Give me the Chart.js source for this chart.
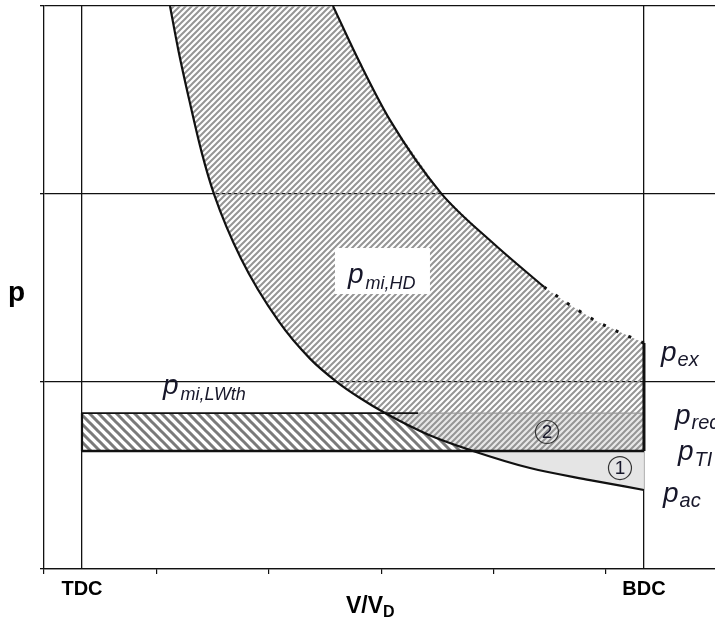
<!DOCTYPE html>
<html>
<head>
<meta charset="utf-8">
<script src="https://cdn.jsdelivr.net/npm/chart.js@4.4.1/dist/chart.umd.min.js"></script>
<style>
  html, body { margin: 0; padding: 0; background: #fff; }
  canvas { display: block; }
</style>
</head>
<body>
<canvas id="pv" width="715" height="621"></canvas>
<script>
// Cylinder volume as V/V_D: TDC is the clearance volume, BDC lies one swept volume further
const V_TDC = 0.0676;
const V_BDC = 1.0676;
const V_AXIS_MAX = 1.194;
const P_AXIS_MAX = 3;

// Characteristic pressures
const P_EX = 1.204;   // end of expansion at BDC
const P_REC = 0.831;  // receiver
const P_TI = 0.629;   // turbine inlet
const P_AC = 0.421;   // start of compression at BDC

// Compression line, from the top of the plot down to p_ac at BDC
const compressionV = [0.2242, 0.2390, 0.2585, 0.2806, 0.3025, 0.3505, 0.4181, 0.4733,
                      0.5214, 0.5623, 0.6068, 0.6851, 0.7633, 0.8648, 0.9715, 1.0676];
const compressionP = [3.000, 2.766, 2.499, 2.220, 1.998, 1.655, 1.318, 1.121,
                      0.996, 0.911, 0.831, 0.714, 0.629, 0.538, 0.474, 0.421];

// Expansion line, solid part
const expansionV = [0.5142, 0.5623, 0.6157, 0.7064, 0.7989, 0.8897];
const expansionP = [3.000, 2.696, 2.392, 2.003, 1.737, 1.503];

// Expansion line, dotted end down to p_ex at BDC
const expansionTailV = [0.8897, 0.9359, 0.9858, 1.0676];
const expansionTailP = [1.503, 1.407, 1.316, 1.204];

// Where the solid upper edge of the gas-exchange rectangle stops
const V_REC_EDGE_END = 0.6655;

// Axis ticks
const xTickValues = [0, 0.2, 0.4, 0.6, 0.8, 1.0];
const yTickValues = [0, 1, 2, 3];
const deadCentreValues = [V_TDC, V_BDC];
const deadCentreLabels = ['TDC', 'BDC'];

const FONT = '"Liberation Sans", Arial, Helvetica, sans-serif';
const TEXT = '#17172a';

function pts(vs, ps) { return vs.map((v, i) => ({ x: v, y: ps[i] })); }

function hatch(size, width, color, forward) {
  const c = document.createElement('canvas');
  c.width = size; c.height = size;
  const g = c.getContext('2d');
  g.strokeStyle = color;
  g.lineWidth = width;
  g.beginPath();
  for (let k = 0; k <= 2; k++) {
    const c0 = k * size;
    if (forward) {            // lines x + y = c0  -> "/"
      g.moveTo(-size, c0 + size);
      g.lineTo(c0 + size, -size);
    } else {                  // lines y = x + (k-1)*size  -> "\"
      const off = (k - 1) * size;
      g.moveTo(-size, -size + off);
      g.lineTo(2 * size, 2 * size + off);
    }
  }
  g.stroke();
  return g.createPattern(c, 'repeat');
}

const hpHatch = hatch(6, 2.0, '#959595', true);
const lpHatch = hatch(9, 3.0, '#7a7a7a', false);

const comp = pts(compressionV, compressionP);
const expa = pts(expansionV, expansionP);
const tail = pts(expansionTailV, expansionTailP);
const iRec = compressionP.indexOf(P_REC);
const iTi = compressionP.indexOf(P_TI);

// High-pressure loop p_mi,HD
const hdShape = [
  ...comp.slice(0, iTi + 1),
  { x: V_BDC, y: P_TI },
  { x: V_BDC, y: P_EX },
  ...tail.slice().reverse(),
  ...expa.slice().reverse()
];
// Area (2): between p_rec and p_TI, right of the compression line
const area2 = [
  comp[iRec],
  { x: V_BDC, y: P_REC },
  { x: V_BDC, y: P_TI },
  ...comp.slice(iRec, iTi + 1).reverse()
];
// Area (1): between p_TI and the compression line
const area1 = [
  comp[iTi],
  { x: V_BDC, y: P_TI },
  { x: V_BDC, y: P_AC },
  ...comp.slice(iTi + 1).reverse()
];
// Gas-exchange loop p_mi,LWth
const lwShape = [
  { x: V_TDC, y: P_REC },
  ...comp.slice(iRec, iTi + 1),
  { x: V_TDC, y: P_TI }
];

function shapeSet(data, color, order) {
  return { data, showLine: true, fill: 'shape', backgroundColor: color,
           borderWidth: 0, pointRadius: 0, tension: 0, order };
}
function lineSet(data, width, color, order, extra) {
  return Object.assign({ data, showLine: true, fill: false, borderColor: color,
           borderWidth: width, pointRadius: 0, order }, extra || {});
}

const datasets = [
  shapeSet(area1, '#e5e5e5', 20),
  shapeSet(area2, '#e8e8e8', 19),
  shapeSet(hdShape, hpHatch, 18),
  shapeSet(lwShape, lpHatch, 17),
  lineSet([{ x: V_REC_EDGE_END, y: P_REC }, { x: V_BDC, y: P_REC }], 1.2, '#9a9a9a', 9),
  lineSet([{ x: V_TDC, y: P_REC }, { x: V_REC_EDGE_END, y: P_REC }], 1.8, '#111', 8),
  lineSet([{ x: V_TDC, y: P_TI }, { x: V_BDC, y: P_TI }], 2.4, '#111', 7),
  lineSet([{ x: V_TDC, y: P_TI }, { x: V_TDC, y: P_REC }], 2.2, '#111', 6),
  lineSet([{ x: V_BDC, y: P_EX }, { x: V_BDC, y: P_TI }], 3.0, '#111', 5),
  lineSet(tail, 3.0, '#111', 4, { borderDash: [3, 11], cubicInterpolationMode: 'monotone' }),
  lineSet(expa, 2.2, '#111', 3, { cubicInterpolationMode: 'monotone' }),
  lineSet(comp, 2.2, '#111', 2, { cubicInterpolationMode: 'monotone' })
];

function labelWithSub(ctx, main, sub, x, y, mainSize, subSize, subDy, subGap) {
  ctx.font = 'italic ' + mainSize + 'px ' + FONT;
  ctx.fillText(main, x, y);
  const w = ctx.measureText(main).width;
  ctx.font = 'italic ' + subSize + 'px ' + FONT;
  ctx.fillText(sub, x + w + subGap, y + subDy);
}

const annotations = {
  id: 'pvAnnotations',
  afterDraw(chart) {
    const { ctx, scales: { x2: xs, y: ys } } = chart;
    const X = v => xs.getPixelForValue(v);
    const Y = p => ys.getPixelForValue(p);
    ctx.save();
    ctx.textAlign = 'left';
    ctx.textBaseline = 'alphabetic';
    ctx.fillStyle = TEXT;

    // p_mi,HD on a white patch
    const bx0 = X(0.5178), bx1 = X(0.6868), by0 = Y(1.7104), by1 = Y(1.4653);
    ctx.fillStyle = '#fff';
    ctx.fillRect(bx0, by0, bx1 - bx0, by1 - by0);
    ctx.fillStyle = TEXT;
    labelWithSub(ctx, 'p', 'mi,HD', X(0.5409), Y(1.524), 28, 18, 6, 2);

    // p_mi,LWth above the gas-exchange rectangle
    labelWithSub(ctx, 'p', 'mi,LWth', X(0.2117), Y(0.9325), 28, 18, 6, 2);

    // Pressure names at BDC
    const bdc = X(V_BDC);
    labelWithSub(ctx, 'p', 'ex', bdc + 17, Y(P_EX) + 18, 28, 20, 5, 1);
    labelWithSub(ctx, 'p', 'rec', bdc + 31, Y(P_REC) + 11, 28, 20, 5, 1);
    labelWithSub(ctx, 'p', 'TI', bdc + 34, Y(P_TI) + 9, 28, 20, 6, 1);
    labelWithSub(ctx, 'p', 'ac', bdc + 19, Y(P_AC) + 12, 28, 20, 5, 1);

    // Circled area numbers
    const circled = [['2', 0.8950, 0.730], ['1', 1.0249, 0.538]];
    ctx.textAlign = 'center';
    ctx.textBaseline = 'middle';
    for (const [t, v, p] of circled) {
      const cx = X(v), cy = Y(p);
      ctx.beginPath();
      ctx.arc(cx, cy, 11.5, 0, Math.PI * 2);
      ctx.strokeStyle = '#333';
      ctx.lineWidth = 1.2;
      ctx.stroke();
      ctx.font = '19px ' + FONT;
      ctx.fillText(t, cx, cy + 1);
    }

    // Axis titles
    ctx.fillStyle = '#000';
    ctx.textAlign = 'left';
    ctx.textBaseline = 'alphabetic';
    ctx.font = 'bold 28px ' + FONT;
    ctx.fillText('p', 8, Y(1.45) + 4);

    ctx.font = 'bold 23px ' + FONT;
    const tx = 346, ty = 613;
    ctx.fillText('V/V', tx, ty);
    const w = ctx.measureText('V/V').width;
    ctx.font = 'bold 16px ' + FONT;
    ctx.fillText('D', tx + w, ty + 4);
    ctx.restore();
  }
};

new Chart(document.getElementById('pv'), {
  type: 'scatter',
  data: { datasets },
  plugins: [annotations],
  options: {
    responsive: false,
    devicePixelRatio: 1,
    animation: false,
    events: [],
    layout: { padding: { top: 6, right: 0, left: 0, bottom: 0 } },
    plugins: { legend: { display: false }, tooltip: { enabled: false } },
    scales: {
      x: {
        type: 'linear', position: 'bottom', min: 0, max: V_AXIS_MAX, weight: 0, z: 1,
        afterBuildTicks: s => { s.ticks = xTickValues.map(v => ({ value: v })); },
        ticks: { display: false },
        grid: { drawOnChartArea: false, drawTicks: true, tickLength: 5, color: '#111', lineWidth: 1.2 },
        border: { display: true, color: '#111', width: 1.3 },
        afterFit: s => { s.height = 5; }
      },
      x2: {
        type: 'linear', position: 'bottom', min: 0, max: V_AXIS_MAX, weight: 1, z: 1,
        afterBuildTicks: s => { s.ticks = deadCentreValues.map(v => ({ value: v })); },
        ticks: {
          autoSkip: false, maxRotation: 0, padding: 3, color: '#000',
          font: { family: FONT, size: 20, weight: 'bold' },
          callback: (value, index) => deadCentreLabels[index]
        },
        grid: { drawOnChartArea: true, drawTicks: false, color: '#111', lineWidth: 1.3 },
        border: { display: false },
        afterFit: s => { s.height = 47; }
      },
      y: {
        type: 'linear', min: 0, max: P_AXIS_MAX, z: 1,
        afterBuildTicks: s => { s.ticks = yTickValues.map(v => ({ value: v })); },
        ticks: { display: false },
        grid: { drawTicks: true, tickLength: 4, color: '#111', lineWidth: 1.3 },
        border: { display: true, color: '#111', width: 1.3 },
        afterFit: s => { s.width = 44; }
      }
    }
  }
});
</script>
</body>
</html>
